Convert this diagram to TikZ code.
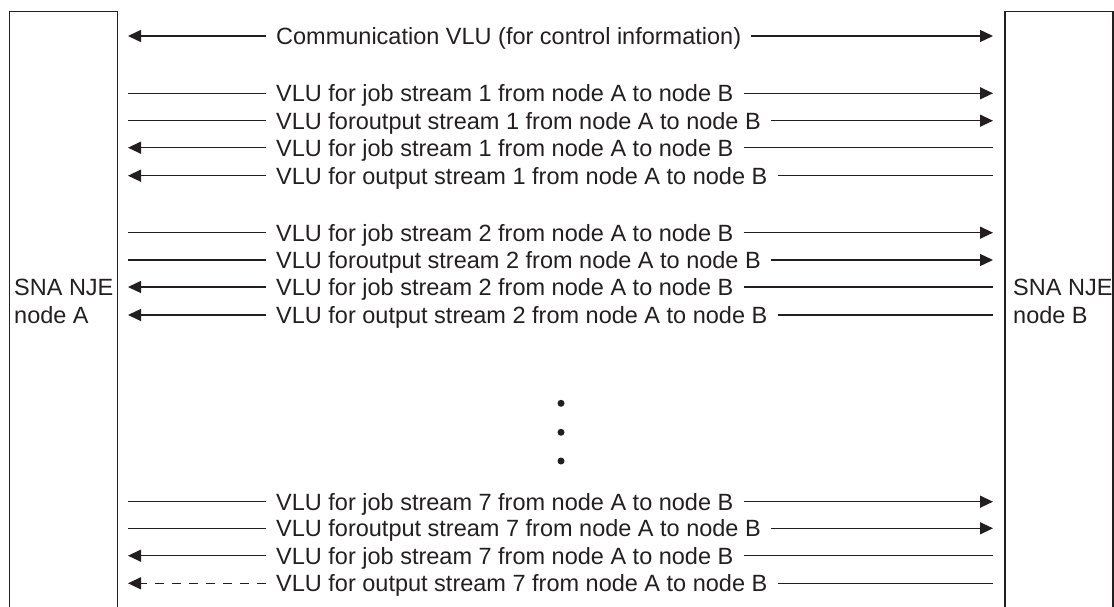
\documentclass[tikz,border=0pt]{standalone}
\usepackage{fontspec}
\setmainfont{Liberation Sans}
\usetikzlibrary{arrows.meta}
\definecolor{ink}{RGB}{35,31,32}
\begin{document}
\begin{tikzpicture}[x=1pt,y=-1pt,
  ink line/.style={draw=ink, line width=1.3pt},
  lbl/.style={anchor=west, inner xsep=10pt, inner ysep=0pt, text height=16.8pt, text depth=0pt, text=ink,
    font=\fontsize{23.5pt}{28pt}\selectfont},
  boxlbl/.style={anchor=base west, inner sep=0pt, text=ink, font=\fontsize{23.5pt}{28pt}\selectfont},
  arrowend/.style={ink line, -{Triangle[length=13pt,width=12pt]}},
  plainend/.style={ink line, -},
  dashend/.style={ink line, -{Triangle[length=13pt,width=12pt]}, dash pattern=on 9pt off 8pt}
]
\useasboundingbox (0,0) rectangle (1114,607);
% boxes (open at bottom)
\draw[ink line] (9.5,607) -- (9.5,11.7) -- (117.5,11.7) -- (117.5,607);
\draw[ink line] (1005,607) -- (1005,11.7) -- (1113,11.7) -- (1113,607);
\node[boxlbl] (a1) at (14,295) {SNA NJE};
\node[boxlbl] (a2) at (14,323) {node A};
\node[boxlbl] (b1) at (1013,295) {SNA NJE};
\node[boxlbl] (b2) at (1013,323) {node B};
% rows
\foreach \y/\la/\ra/\txt [count=\i] in {
  36/arrowend/arrowend/{Communication VLU (for control information)},
  93.3/plainend/arrowend/{VLU for job stream 1 from node A to node B},
  120.7/plainend/arrowend/{VLU foroutput stream 1 from node A to node B},
  147.7/arrowend/plainend/{VLU for job stream 1 from node A to node B},
  175.7/arrowend/plainend/{VLU for output stream 1 from node A to node B},
  232.7/plainend/arrowend/{VLU for job stream 2 from node A to node B},
  260/plainend/arrowend/{VLU foroutput stream 2 from node A to node B},
  287/arrowend/plainend/{VLU for job stream 2 from node A to node B},
  315/arrowend/plainend/{VLU for output stream 2 from node A to node B},
  501.7/plainend/arrowend/{VLU for job stream 7 from node A to node B},
  528.3/plainend/arrowend/{VLU foroutput stream 7 from node A to node B},
  555.7/arrowend/plainend/{VLU for job stream 7 from node A to node B},
  583.3/dashend/plainend/{VLU for output stream 7 from node A to node B}}
{
  \coordinate (L\i) at (128,\y);
  \coordinate (R\i) at (993,\y);
  \node[lbl] (T\i) at (266,\y) {\txt};
  \draw[\la] (T\i.west) -- (L\i);
  \draw[\ra] (T\i.east) -- (R\i);
}
% ellipsis dots
\fill[ink] (561,403.3) circle (3.5pt);
\fill[ink] (561,432.3) circle (3.5pt);
\fill[ink] (561,461) circle (3.5pt);
\end{tikzpicture}
\end{document}
